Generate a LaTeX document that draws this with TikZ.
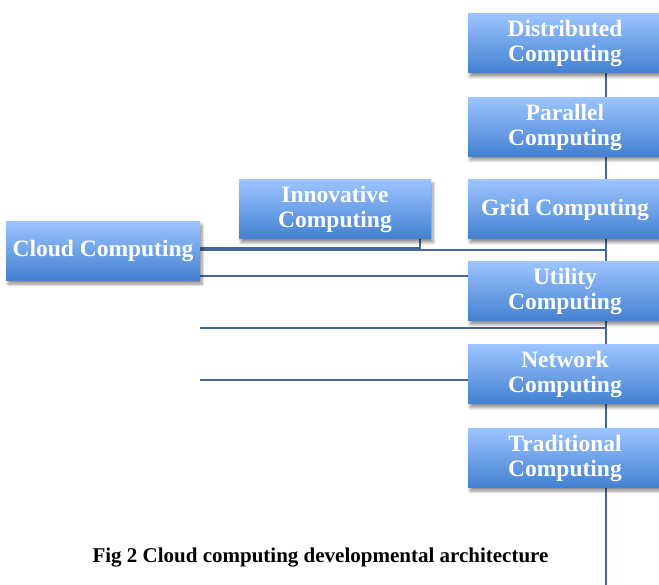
\documentclass[tikz,border=0pt]{standalone}
\usepackage{fontspec}
\setmainfont{Liberation Serif}
\usetikzlibrary{shadows.blur,calc,backgrounds}
\definecolor{boxtop}{RGB}{156,196,255}
\definecolor{boxbot}{RGB}{66,128,208}
\definecolor{linec}{RGB}{68,104,158}
\tikzset{
  cbox/.style={rectangle, inner sep=0pt, top color=boxtop, bottom color=boxbot, draw=none,
    minimum height=59pt, text=white, align=center,
    font=\fontsize{23.5}{25}\selectfont\bfseries,
    blur shadow={shadow xshift=2pt, shadow yshift=-3.5pt, shadow blur steps=6, shadow blur radius=3pt, shadow opacity=45}},
  rbox/.style={cbox, minimum width=194pt},
  conn/.style={draw=linec, line width=2pt},
}
\begin{document}
\begin{tikzpicture}[x=1pt,y=-1pt]
\useasboundingbox (0,0) rectangle (659,585);
\node[rbox] (dist) at (565,43.5) {Distributed\\Computing};
\node[rbox] (par) at (565,127) {Parallel\\Computing};
\node[rbox] (grid) at (565,209.5) {Grid Computing};
\node[rbox] (util) at (565,291.5) {Utility\\Computing};
\node[rbox] (net) at (565,374.5) {Network\\Computing};
\node[rbox] (trad) at (565,458) {Traditional\\Computing};
\node[cbox, minimum width=194pt] (cloud) at (103,251) {Cloud Computing};
\node[cbox, minimum width=192pt] (innov) at (335,209.5) {Innovative\\Computing};
\coordinate (spinetop) at (605.5,73);
\coordinate (spinebot) at (605.5,585);
\coordinate (ik) at (420,239);
\begin{pgfonlayer}{background}
\draw[conn] (spinetop) -- (spinebot);
\draw[conn] (cloud.east |- 0,248) -| (ik);
\draw[conn] (cloud.east |- 0,250.5) -- (spinetop |- 0,250.5);
\draw[conn] (cloud.east |- 0,276) -- (util.west |- 0,276);
\draw[conn] (cloud.east |- 0,328) -- (spinetop |- 0,328);
\draw[conn] (cloud.east |- 0,380) -- (net.west |- 0,380);
\end{pgfonlayer}
\node[font=\fontsize{21}{24}\selectfont\bfseries, inner sep=0pt, anchor=base] (cap) at (320.5,562) {Fig 2 Cloud computing developmental architecture};
\end{tikzpicture}
\end{document}
